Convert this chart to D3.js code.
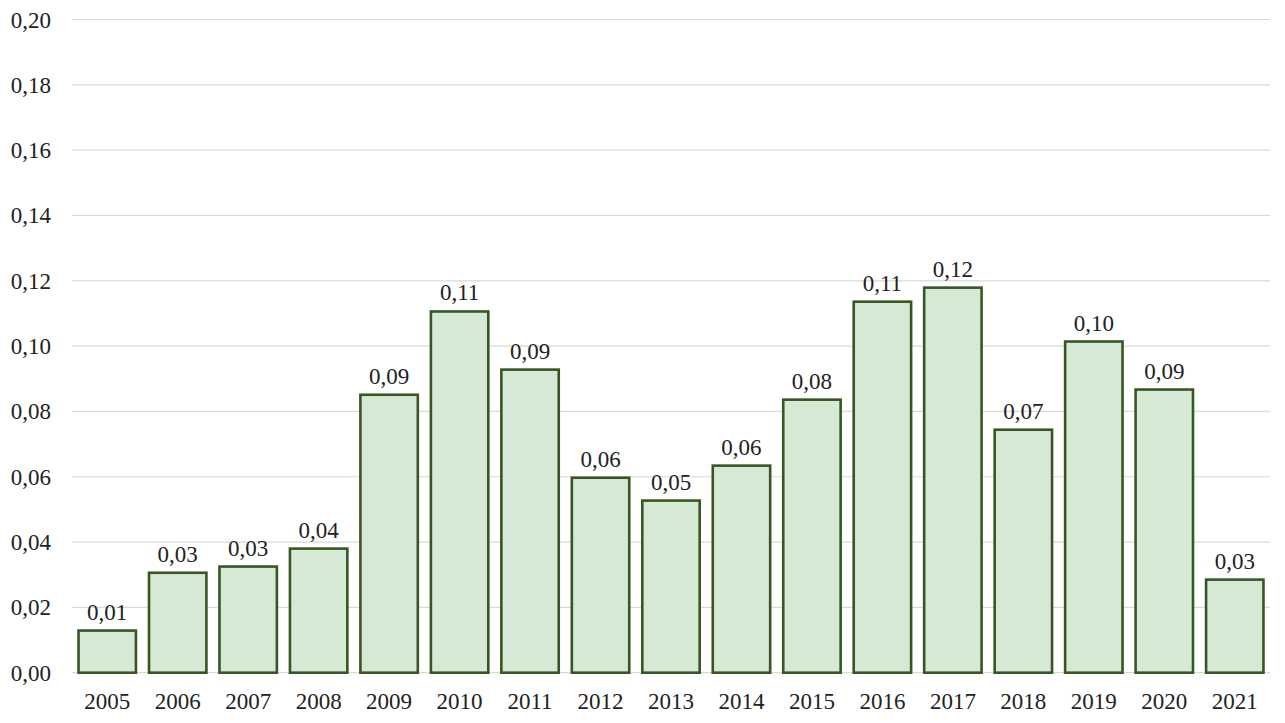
<!DOCTYPE html>
<html><head><meta charset="utf-8">
<script src="https://cdn.jsdelivr.net/npm/d3@7"></script>
<style>body{margin:0;background:#fff}svg{display:block}</style>
</head><body>
<svg id="c" width="1285" height="723"></svg>
<script>
const years = ["2005","2006","2007","2008","2009","2010","2011","2012","2013","2014","2015","2016","2017","2018","2019","2020","2021"];
const values = [0.0129,0.0306,0.0325,0.0380,0.0851,0.1106,0.0928,0.0597,0.0527,0.0634,0.0836,0.1136,0.1179,0.0744,0.1014,0.0867,0.0285];
const yTicks = [0,0.02,0.04,0.06,0.08,0.10,0.12,0.14,0.16,0.18,0.20];

const svg = d3.select("#c");
const pL = 72, pR = 1270, pT = 19.5, pB = 672.7;
const x = d3.scaleBand().domain(years).range([pL, pR]).paddingInner(0.15).paddingOuter(0.075);
const y = d3.scaleLinear().domain([0, 0.20]).range([pB, pT]);
const fmt = v => d3.format(".2f")(v).replace(".", ",");
const font = "'Liberation Serif','Times New Roman',serif";

svg.append("g").selectAll("line").data(yTicks).join("line")
  .attr("x1", pL).attr("x2", pR)
  .attr("y1", d => y(d)).attr("y2", d => y(d))
  .attr("stroke", "#d9d9d9").attr("stroke-width", 1.2);

svg.append("g").selectAll("text").data(yTicks).join("text")
  .attr("x", 51).attr("y", d => y(d) + 8)
  .attr("text-anchor", "end")
  .attr("font-family", font).attr("font-size", 23).attr("fill", "#222")
  .text(d => fmt(d));

svg.append("g").selectAll("rect").data(values).join("rect")
  .attr("x", (d, i) => x(years[i]) + 1.25)
  .attr("width", x.bandwidth() - 2.5)
  .attr("y", d => y(d))
  .attr("height", d => pB - y(d))
  .attr("fill", "#d6e9d5").attr("stroke", "#375623").attr("stroke-width", 2.6);

svg.append("g").selectAll("text").data(values).join("text")
  .attr("x", (d, i) => x(years[i]) + x.bandwidth() / 2)
  .attr("y", d => y(d) - 11)
  .attr("text-anchor", "middle")
  .attr("font-family", font).attr("font-size", 23).attr("fill", "#222")
  .text(d => fmt(d));

svg.append("g").selectAll("text").data(years).join("text")
  .attr("x", d => x(d) + x.bandwidth() / 2)
  .attr("y", 709)
  .attr("text-anchor", "middle")
  .attr("font-family", font).attr("font-size", 23).attr("fill", "#222")
  .text(d => d);
</script>
</body></html>
